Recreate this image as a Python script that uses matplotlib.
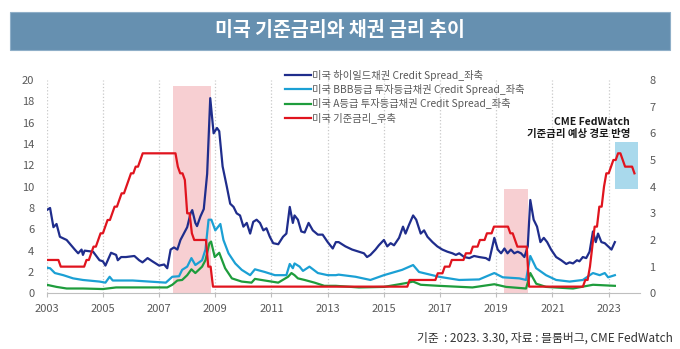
import matplotlib
matplotlib.use('Agg')
import matplotlib.pyplot as plt
from matplotlib.patches import Rectangle
import numpy as np

plt.rcParams['font.family'] = ['Noto Sans CJK KR', 'DejaVu Sans']

# ---- data ----
title = '미국 기준금리와 채권 금리 추이'
source = '기준  : 2023. 3.30, 자료 : 블룸버그, CME FedWatch'
note = 'CME FedWatch\n기준금리 예상 경로 반영'

labels = ['미국 하이일드채권 Credit Spread_좌축',
          '미국 BBB등급 투자등급채권 Credit Spread_좌축',
          '미국 A등급 투자등급채권 Credit Spread_좌축',
          '미국 기준금리_우축']

hy_years = [2003.00, 2003.12, 2003.24, 2003.35, 2003.47, 2003.71, 2004.00, 2004.12,
            2004.24, 2004.29, 2004.35, 2004.65, 2004.88, 2005.00, 2005.09, 2005.29,
            2005.47, 2005.53, 2005.65, 2005.82, 2006.12, 2006.29, 2006.41, 2006.59,
            2006.76, 2007.00, 2007.18, 2007.29, 2007.41, 2007.53, 2007.65, 2007.76,
            2007.88, 2008.00, 2008.12, 2008.18, 2008.29, 2008.35, 2008.47, 2008.59,
            2008.71, 2008.82, 2008.94, 2009.06, 2009.14, 2009.26, 2009.41, 2009.53,
            2009.65, 2009.76, 2009.88, 2010.00, 2010.12, 2010.24, 2010.35, 2010.47,
            2010.59, 2010.71, 2010.82, 2010.94, 2011.06, 2011.24, 2011.41, 2011.53,
            2011.65, 2011.76, 2011.82, 2011.94, 2012.06, 2012.18, 2012.32, 2012.47,
            2012.65, 2012.82, 2013.00, 2013.18, 2013.29, 2013.39, 2013.63, 2013.87,
            2014.11, 2014.29, 2014.40, 2014.52, 2014.70, 2014.82, 2015.00, 2015.12,
            2015.24, 2015.36, 2015.54, 2015.68, 2015.77, 2015.89, 2016.04, 2016.15,
            2016.31, 2016.43, 2016.55, 2016.73, 2016.90, 2017.08, 2017.26, 2017.44,
            2017.56, 2017.68, 2017.86, 2018.04, 2018.21, 2018.39, 2018.63, 2018.75,
            2018.93, 2019.05, 2019.17, 2019.29, 2019.40, 2019.52, 2019.64, 2019.76,
            2019.88, 2020.00, 2020.12, 2020.21, 2020.33, 2020.45, 2020.57, 2020.69,
            2020.81, 2020.95, 2021.13, 2021.31, 2021.49, 2021.61, 2021.73, 2021.87,
            2021.96, 2022.08, 2022.20, 2022.32, 2022.44, 2022.54, 2022.62, 2022.74,
            2022.86, 2022.98, 2023.10, 2023.22]
hy_vals = [7.8, 8.0, 6.2, 6.5, 5.3, 5.0, 4.1, 3.75,
           4.1, 3.6, 4.0, 3.9, 3.1, 3.0, 2.6, 3.8,
           3.6, 3.1, 3.4, 3.4, 3.5, 3.1, 2.9, 3.3,
           3.0, 2.6, 2.7, 2.35, 4.1, 4.3, 4.1, 5.0,
           5.6, 6.2, 7.5, 7.8, 6.6, 6.3, 7.2, 7.9,
           11.2, 18.3, 15.0, 15.5, 15.2, 11.9, 10.0, 8.4,
           8.1, 7.5, 7.3, 6.25, 6.6, 5.6, 6.7, 6.9,
           6.6, 5.9, 6.1, 5.3, 4.7, 4.6, 5.3, 5.6,
           8.1, 6.6, 7.3, 6.9, 5.8, 5.7, 6.6, 5.9,
           5.5, 5.5, 4.8, 4.2, 4.8, 4.8, 4.4, 4.1,
           3.9, 3.75, 3.4, 3.6, 4.1, 4.5, 5.0, 4.4,
           4.7, 4.5, 5.2, 6.25, 5.6, 6.4, 7.3, 6.9,
           5.6, 5.9, 5.3, 4.8, 4.4, 4.1, 3.9, 3.75,
           3.6, 3.75, 3.4, 3.3, 3.5, 3.4, 3.3, 3.1,
           5.2, 4.1, 3.75, 4.2, 3.75, 4.1, 3.75, 3.9,
           3.75, 3.4, 4.4, 8.75, 6.9, 6.25, 4.8, 5.2,
           4.8, 4.1, 3.4, 3.1, 2.75, 2.9, 2.8, 3.1,
           3.0, 3.4, 3.3, 3.9, 5.8, 4.8, 5.6, 4.8,
           4.7, 4.4, 4.1, 4.8]

bbb_years = [2003.00, 2003.12, 2003.29, 2003.59, 2003.94, 2004.29, 2004.88, 2005.09,
             2005.24, 2005.35, 2006.06, 2006.65, 2007.24, 2007.47, 2007.71, 2007.82,
             2008.00, 2008.15, 2008.29, 2008.53, 2008.65, 2008.76, 2008.86, 2009.00,
             2009.18, 2009.29, 2009.47, 2009.71, 2009.94, 2010.24, 2010.41, 2010.76,
             2011.12, 2011.53, 2011.65, 2011.76, 2011.82, 2012.00, 2012.12, 2012.35,
             2012.65, 2013.00, 2013.29, 2013.39, 2013.99, 2014.52, 2015.00, 2015.65,
             2016.04, 2016.25, 2016.96, 2017.68, 2018.39, 2018.93, 2019.23, 2019.82,
             2020.06, 2020.21, 2020.42, 2020.77, 2021.13, 2021.61, 2022.08, 2022.44,
             2022.68, 2022.86, 2022.98, 2023.22]
bbb_vals = [2.4, 2.35, 1.9, 1.7, 1.4, 1.25, 1.1, 1.0,
            1.55, 1.2, 1.2, 1.1, 1.0, 1.55, 1.6, 2.2,
            2.5, 3.3, 2.65, 3.1, 4.1, 6.9, 6.9, 5.9,
            6.5, 5.0, 3.75, 2.8, 2.2, 1.7, 2.25, 2.0,
            1.7, 1.7, 2.75, 2.35, 2.8, 2.5, 2.1, 2.5,
            1.9, 1.7, 1.7, 1.75, 1.55, 1.25, 1.7, 2.2,
            2.65, 2.0, 1.55, 1.25, 1.3, 1.9, 1.5, 1.4,
            1.25, 3.5, 2.35, 1.7, 1.25, 1.1, 1.25, 1.9,
            1.7, 1.9, 1.5, 1.7]

a_years = [2003.00, 2003.35, 2003.71, 2004.29, 2005.00, 2005.47, 2006.06, 2006.65,
           2007.29, 2007.47, 2007.65, 2007.82, 2008.00, 2008.15, 2008.29, 2008.53,
           2008.65, 2008.79, 2008.85, 2008.98, 2009.14, 2009.35, 2009.59, 2009.94,
           2010.29, 2010.41, 2010.76, 2011.24, 2011.59, 2011.71, 2011.82, 2011.94,
           2012.18, 2012.53, 2012.88, 2013.29, 2014.11, 2015.00, 2015.77, 2016.04,
           2016.31, 2016.96, 2018.15, 2018.93, 2019.35, 2020.06, 2020.21, 2020.42,
           2020.77, 2021.73, 2022.44, 2023.22]
a_vals = [0.8, 0.6, 0.45, 0.45, 0.4, 0.55, 0.55, 0.55,
          0.55, 0.8, 1.2, 1.25, 1.7, 2.25, 1.9, 2.5,
          3.1, 4.7, 4.85, 3.4, 3.8, 2.35, 1.4, 1.1,
          1.0, 1.35, 1.2, 1.0, 1.55, 1.9, 1.7, 1.4,
          1.25, 1.0, 0.7, 0.7, 0.55, 0.6, 0.95, 1.1,
          0.8, 0.7, 0.55, 0.85, 0.6, 0.45, 1.9, 0.9,
          0.6, 0.45, 0.8, 0.7]

# fed funds target (upper bound), monthly, Jan 2003 .. Dec 2023 (2023 Apr+ = FedWatch path)
fed_by_year = {
    2003: [1.25] * 6 + [1.0] * 6,
    2004: [1.0] * 5 + [1.25, 1.25, 1.5, 1.75, 1.75, 2.0, 2.25],
    2005: [2.25, 2.5, 2.75, 2.75, 3.0, 3.25, 3.25, 3.5, 3.75, 3.75, 4.0, 4.25],
    2006: [4.5, 4.5, 4.75, 4.75, 5.0, 5.25] + [5.25] * 6,
    2007: [5.25] * 8 + [4.75, 4.5, 4.5, 4.25],
    2008: [3.0, 3.0, 2.25, 2.0, 2.0, 2.0, 2.0, 2.0, 2.0, 1.0, 1.0, 0.25],
    2009: [0.25] * 12, 2010: [0.25] * 12, 2011: [0.25] * 12,
    2012: [0.25] * 12, 2013: [0.25] * 12, 2014: [0.25] * 12,
    2015: [0.25] * 11 + [0.5],
    2016: [0.5] * 11 + [0.75],
    2017: [0.75, 0.75, 1.0, 1.0, 1.0, 1.25, 1.25, 1.25, 1.25, 1.25, 1.25, 1.5],
    2018: [1.5, 1.5, 1.75, 1.75, 1.75, 2.0, 2.0, 2.0, 2.25, 2.25, 2.25, 2.5],
    2019: [2.5] * 6 + [2.25, 2.25, 2.0, 1.75, 1.75, 1.75],
    2020: [1.75, 1.75] + [0.25] * 10,
    2021: [0.25] * 12,
    2022: [0.25, 0.25, 0.5, 0.5, 1.0, 1.75, 2.5, 2.5, 3.25, 3.25, 4.0, 4.5],
    2023: [4.5, 4.75, 5.0, 5.0, 5.25, 5.25, 5.0, 4.75, 4.75, 4.75, 4.75, 4.5],
}

# recession shading (left axis) and FedWatch box (right axis)
recessions = [(2007.49, 2008.83, 19.45), (2019.27, 2020.12, 9.8)]
fedwatch_box = (2023.22, 2024.05, 3.9, 5.69)

c_hy = '#1F2D8C'
c_bbb = '#1BA0D4'
c_a = '#1E9C3C'
c_fed = '#E0141E'
c_txt = '#595959'

fig = plt.figure(figsize=(6.8, 3.49), dpi=100)

# title bar
fig.patches.append(Rectangle((10 / 680, 1 - 50 / 349), 660 / 680, 38 / 349,
                             transform=fig.transFigure, facecolor='#6690B0',
                             edgecolor='#8FAFC8', lw=0.8, zorder=0))
fig.text(0.5, 1 - 31 / 349, title, ha='center', va='center', color='white',
         fontsize=14, fontweight='bold')

ax = fig.add_axes([46.7 / 680, 1 - 293.3 / 349, (639.6 - 46.7) / 680, 213.3 / 349])
ax2 = ax.twinx()

for x0, x1, top in recessions:
    ax.add_patch(Rectangle((x0, 0), x1 - x0, top, facecolor='#F7CFD2',
                           edgecolor='none', zorder=1))

h1, = ax.plot(hy_years, hy_vals, color=c_hy, lw=1.6, zorder=3)
h2, = ax.plot(bbb_years, bbb_vals, color=c_bbb, lw=1.6, zorder=3)
h3, = ax.plot(a_years, a_vals, color=c_a, lw=1.6, zorder=3)

fed_x = []
fed_y = []
for yr in sorted(fed_by_year):
    for m, v in enumerate(fed_by_year[yr]):
        fed_x.append(yr + m / 12)
        fed_y.append(v)

x0, x1, y0, y1 = fedwatch_box
ax2.add_patch(Rectangle((x0, y0), x1 - x0, y1 - y0, facecolor='#A9D9EC',
                        edgecolor='none', zorder=1))
h4, = ax2.plot(fed_x, fed_y, color=c_fed, lw=1.6, zorder=3)

ax.set_xlim(2003, 2024.1)
ax.set_ylim(0, 20)
ax2.set_ylim(0, 8)
ax.set_xticks(range(2003, 2024, 2))
ax.set_yticks(range(0, 21, 2))
ax2.set_yticks(range(0, 9))

ax.grid(axis='x', ls=':', color='#C8C8C8', lw=0.9)
ax.set_axisbelow(True)

for a in (ax, ax2):
    for s in ('top', 'left', 'right'):
        a.spines[s].set_visible(False)
ax2.spines['bottom'].set_visible(False)
ax.spines['bottom'].set_color('#BFBFBF')

ax.tick_params(axis='x', colors='#BFBFBF', labelcolor=c_txt, labelsize=8,
               length=3, pad=5)
ax.tick_params(axis='y', length=0, labelcolor=c_txt, labelsize=8, pad=9)
ax2.tick_params(axis='y', length=0, labelcolor=c_txt, labelsize=8, pad=7)

leg = fig.legend([h1, h2, h3, h4], labels, loc='upper left',
                 bbox_to_anchor=(285 / 680, 1 - 70 / 349), frameon=False,
                 fontsize=7.4, handlelength=2.5, handletextpad=0.15,
                 labelspacing=0.3, borderpad=0, borderaxespad=0)
for t in leg.get_texts():
    t.set_color(c_txt)

fig.text(630 / 680, 1 - 128 / 349, note, ha='right', va='center', fontsize=7.5,
         fontweight='bold', color='#1A1A1A', linespacing=1.2)

fig.text(673 / 680, 1 - 338 / 349, source, ha='right', va='center',
         fontsize=8.5, color='#333333')

fig.savefig('out.png', dpi=100)
